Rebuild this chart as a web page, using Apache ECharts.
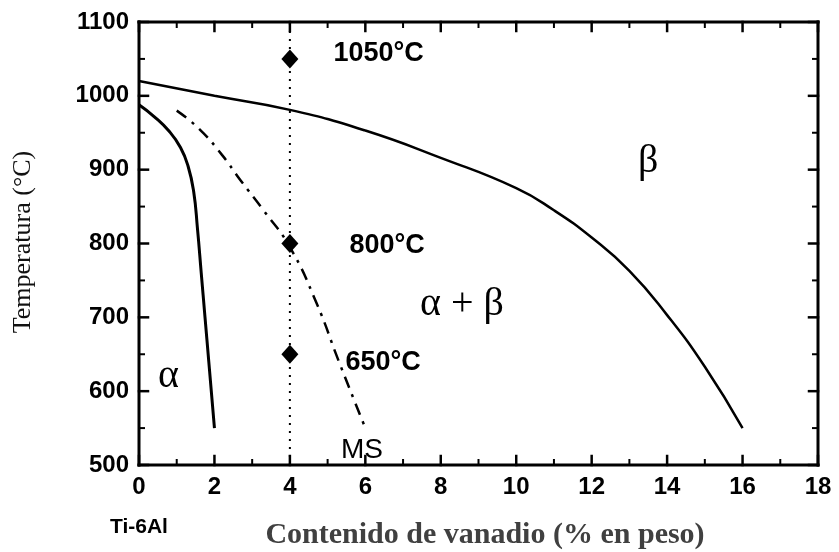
<!DOCTYPE html>
<html>
<head>
<meta charset="utf-8">
<script src="https://cdn.jsdelivr.net/npm/echarts@6/dist/echarts.min.js"></script>
<style>
  html, body { margin: 0; padding: 0; background: #fff; }
  #chart { width: 839px; height: 552px; position: absolute; left: 0; top: 0; }
</style>
</head>
<body>
<div id="chart"></div>
<script>
// Ti-6Al-xV phase diagram: temperature vs vanadium content
const xTicks = [0, 2, 4, 6, 8, 10, 12, 14, 16, 18];
const yTicks = [500, 600, 700, 800, 900, 1000, 1100];

// beta transus (upper boundary of alpha + beta)
const betaTransusV = [0, 2, 4, 6, 8, 10, 11, 12, 13, 14, 15, 16];
const betaTransusT = [1020, 1000, 981, 953, 916, 875, 845, 808, 763, 703, 633, 550];

// alpha transus (lower boundary of alpha + beta)
const alphaTransusV = [0, 0.4, 0.8, 1.1, 1.3, 1.45, 1.55, 1.65, 1.75, 1.85, 2.0];
const alphaTransusT = [988, 972, 952, 930, 905, 870, 820, 760, 700, 640, 550];

// martensite start (MS)
const msV = [1.0, 1.6, 2.2, 2.7, 3.3, 4.0, 4.7, 5.3, 6.0];
const msT = [980, 955, 920, 885, 845, 795, 720, 640, 550];

// heat-treatment temperatures for the 4 % V alloy
const alloyV = 4;
const treatTemps = [1050, 800, 650];

const pairs = (xs, ys) => xs.map((x, i) => [x, ys[i]]);
const xMin = xTicks[0], xMax = xTicks[xTicks.length - 1];
const yMin = yTicks[0], yMax = yTicks[yTicks.length - 1];

// axes carry the tick labels; the frame and its inward ticks are drawn by a custom series
function valueAxis(position, min, max, step, withLabels) {
  return {
    type: 'value', position: position, min: min, max: max, interval: step,
    axisLine: { show: false },
    axisTick: { show: false },
    minorTick: { show: false },
    splitLine: { show: false },
    axisLabel: {
      show: withLabels, margin: 10, formatter: v => String(v),
      fontFamily: 'Liberation Sans', fontWeight: 'bold', fontSize: 24, color: '#000'
    }
  };
}

// box frame with inward major ticks and minor ticks at the half steps, on all four sides
function renderFrame(params, api) {
  const seg = (a, b, w) => ({
    type: 'line',
    shape: { x1: a[0], y1: a[1], x2: b[0], y2: b[1] },
    style: { stroke: '#000', lineWidth: w, lineCap: 'square' }
  });
  const bl = api.coord([xMin, yMin]);
  const tr = api.coord([xMax, yMax]);
  const kids = [];
  const tick = (v, isX, len, w) => {
    if (isX) {
      const px = api.coord([v, yMin])[0];
      kids.push(seg([px, bl[1]], [px, bl[1] - len], w));
      kids.push(seg([px, tr[1]], [px, tr[1] + len], w));
    } else {
      const py = api.coord([xMin, v])[1];
      kids.push(seg([bl[0], py], [bl[0] + len, py], w));
      kids.push(seg([tr[0], py], [tr[0] - len, py], w));
    }
  };
  xTicks.forEach((v, i) => {
    tick(v, true, 9, 2.5);
    if (i > 0) tick((v + xTicks[i - 1]) / 2, true, 5, 2);
  });
  yTicks.forEach((v, i) => {
    tick(v, false, 9, 2.5);
    if (i > 0) tick((v + yTicks[i - 1]) / 2, false, 5, 2);
  });
  kids.push(seg([bl[0], bl[1]], [tr[0], bl[1]], 3));
  kids.push(seg([bl[0], tr[1]], [tr[0], tr[1]], 3));
  kids.push(seg([bl[0], bl[1]], [bl[0], tr[1]], 3));
  kids.push(seg([tr[0], bl[1]], [tr[0], tr[1]], 3));
  return { type: 'group', children: kids };
}

const frame = {
  type: 'custom', renderItem: renderFrame, data: [[xMin, yMin]],
  clip: false, silent: true, z: 10
};

const curves = [
  { type: 'line', data: pairs(betaTransusV, betaTransusT), smooth: 0.5, showSymbol: false, lineStyle: { color: '#000', width: 2.5 } },
  { type: 'line', data: pairs(alphaTransusV, alphaTransusT), smooth: 0.5, showSymbol: false, lineStyle: { color: '#000', width: 3 } },
  { type: 'line', data: pairs(msV, msT), smooth: 0.5, showSymbol: false, lineStyle: { color: '#000', width: 2.5, type: [12, 7, 3, 7] } }
];

// dotted composition line of the 4 % V alloy
const vline = {
  type: 'line', data: [[alloyV, yMin], [alloyV, yMax]],
  showSymbol: false, lineStyle: { color: '#000', width: 2, type: [2, 6] }
};

// treatment points with their temperature labels
const scat = {
  type: 'scatter', symbol: 'diamond', symbolSize: [17, 19], itemStyle: { color: '#000', opacity: 1 },
  data: treatTemps.map((t, i) => ({
    value: [alloyV, t],
    label: {
      show: true, position: 'right',
      offset: [[30, -5], [46, 2], [42, 8]][i],
      formatter: t + '°C',
      fontFamily: 'Liberation Sans', fontWeight: 'bold', fontSize: 27, color: '#000'
    }
  }))
};

const graphic = [
  { type: 'text', left: 638, top: 141, style: { text: 'β', font: '40px "Liberation Serif", serif', fill: '#000' } },
  { type: 'text', left: 420, top: 284, style: { text: 'α + β', font: '40px "Liberation Serif", serif', fill: '#000' } },
  { type: 'text', left: 158, top: 356, style: { text: 'α', font: '40px "Liberation Serif", serif', fill: '#000' } },
  { type: 'text', left: 341, top: 436, style: { text: 'MS', font: '28px "Liberation Sans", Arial, sans-serif', fill: '#000' } },
  { type: 'text', left: 110, top: 517, style: { text: 'Ti-6Al', font: 'bold 21px "Liberation Sans", Arial, sans-serif', fill: '#000' } },
  { type: 'text', x: 485, y: 535, style: { text: 'Contenido de vanadio (% en peso)', font: 'bold 30px "Liberation Serif", serif', fill: '#404040', align: 'center', verticalAlign: 'middle' } },
  { type: 'text', x: 23, y: 242, rotation: Math.PI / 2, style: { text: 'Temperatura (°C)', font: '26px "Liberation Serif", serif', fill: '#111', align: 'center', verticalAlign: 'middle' } }
];

const chart = echarts.init(document.getElementById('chart'), null, { renderer: 'canvas' });
chart.setOption({
  animation: false,
  grid: { left: 139, right: 21, top: 22, bottom: 87 },
  xAxis: [valueAxis('bottom', xMin, xMax, 2, true)],
  yAxis: [valueAxis('left', yMin, yMax, 100, true)],
  series: [frame].concat(curves, [vline, scat]),
  graphic: graphic
});
</script>
</body>
</html>
